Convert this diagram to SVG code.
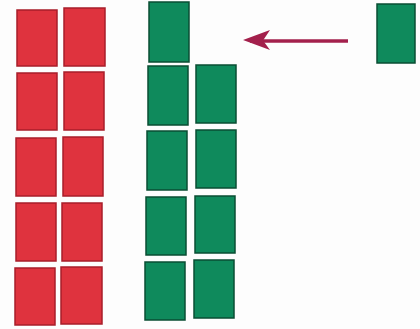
<svg xmlns="http://www.w3.org/2000/svg" width="420" height="329" viewBox="0 0 420 329">
<style>
.r{fill:#df333e;stroke:#a81e2a;stroke-width:1.5}
.g{fill:#0f8a5c;stroke:#0a4d33;stroke-width:1.5}
.a{stroke:#a3204c;stroke-width:3.5;fill:none}
.h{fill:#a3204c}
</style>
<rect width="420" height="329" fill="#fdfdfd"/>
<g id="red-left">
<g id="r1a"><rect class="r" x="17" y="10" width="40" height="56"/></g>
<g id="r2a"><rect class="r" x="17" y="73" width="40" height="57"/></g>
<g id="r3a"><rect class="r" x="16" y="138" width="40" height="58"/></g>
<g id="r4a"><rect class="r" x="16" y="203" width="40" height="58"/></g>
<g id="r5a"><rect class="r" x="15" y="268" width="40" height="57"/></g>
</g>
<g id="red-right">
<g id="r1b"><rect class="r" x="64" y="8" width="41" height="58"/></g>
<g id="r2b"><rect class="r" x="64" y="72" width="40" height="58"/></g>
<g id="r3b"><rect class="r" x="63" y="137" width="40" height="59"/></g>
<g id="r4b"><rect class="r" x="62" y="203" width="40" height="58"/></g>
<g id="r5b"><rect class="r" x="61" y="267" width="41" height="57"/></g>
</g>
<g id="green-left">
<g id="g1a"><rect class="g" x="149" y="2" width="40" height="60"/></g>
<g id="g2a"><rect class="g" x="148" y="66" width="40" height="59"/></g>
<g id="g3a"><rect class="g" x="147" y="131" width="40" height="59"/></g>
<g id="g4a"><rect class="g" x="146" y="197" width="40" height="58"/></g>
<g id="g5a"><rect class="g" x="145" y="262" width="40" height="58"/></g>
</g>
<g id="green-right">
<g id="g2b"><rect class="g" x="196" y="65" width="40" height="58"/></g>
<g id="g3b"><rect class="g" x="196" y="130" width="40" height="58"/></g>
<g id="g4b"><rect class="g" x="195" y="196" width="40" height="57"/></g>
<g id="g5b"><rect class="g" x="194" y="260" width="40" height="58"/></g>
</g>
<g id="green-single">
<rect class="g" x="377" y="4" width="38" height="59"/>
</g>
<g id="connectors">
<line class="a" x1="348" y1="41" x2="250" y2="41"/>
<path class="h" d="M243 40 L270 30 L263 40.5 L270 50 Z"/>
</g>
</svg>
